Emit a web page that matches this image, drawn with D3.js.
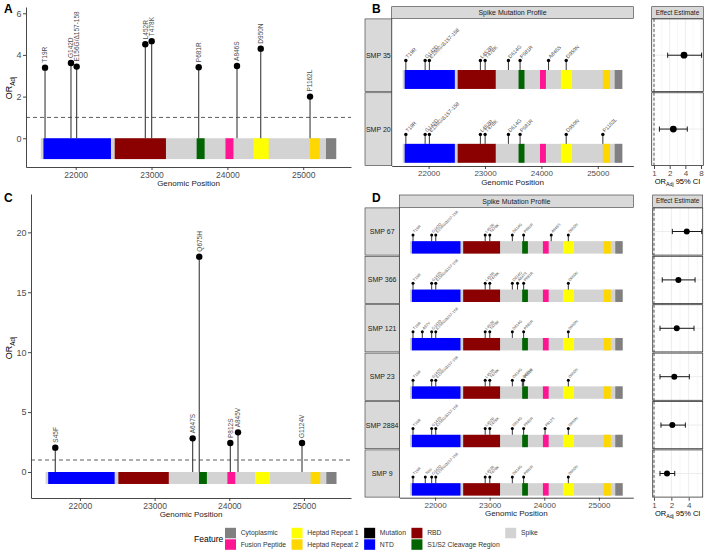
<!DOCTYPE html>
<html><head><meta charset="utf-8">
<script src="https://cdn.jsdelivr.net/npm/d3@7"></script>
<style>body{margin:0;background:#fff;} text{font-family:"Liberation Sans",Arial,Helvetica,sans-serif;}</style>
</head><body><svg id="c" width="708" height="557" xmlns="http://www.w3.org/2000/svg"></svg>
<script>
// ---------------- DATA ----------------
const xDomain = [21345, 25630];
const featureNames  = ["Spike","NTD","RBD","S1/S2 Cleavage Region","Fusion Peptide","Heptad Repeat 1","Heptad Repeat 2","Cytoplasmic"];
const featureStart  = [21540, 21575, 22515, 23595, 23975, 24345, 25090, 25300];
const featureEnd    = [25435, 22465, 23190, 23700, 24080, 24545, 25218, 25435];

const mutationNames = ["T19R","S45F","A67V","T95I","G142D","E156G/Δ157-158","L452R","T478K","D614G","A647S","Q675H","P681R","P812S","A845V","A846S","D950N","G1124V","P1162L"];
const mutationPos   = [21596, 21670, 21766, 21821, 21938, 22013, 22918, 23002, 23415, 23510, 23598, 23622, 24014, 24117, 24127, 24440, 24974, 25090];

const mutA = ["T19R","G142D","E156G/Δ157-158","L452R","T478K","P681R","A846S","D950N","P1162L"];
const orA  = [3.39, 3.61, 3.44, 4.51, 4.66, 3.41, 3.47, 4.30, 2.00];
const mutC = ["S45F","A647S","Q675H","P812S","A845V","G1124V"];
const orC  = [2.03, 2.81, 17.97, 2.42, 3.31, 2.42];

const samplesB = ["SMP 35","SMP 20"];
const profileB = [
  ["T19R","G142D","E156G/Δ157-158","L452R","T478K","D614G","P681R","A846S","D950N"],
  ["T19R","G142D","E156G/Δ157-158","L452R","T478K","D614G","P681R","D950N","P1162L"]
];
const estB = [3.77, 2.35];
const loB  = [1.83, 1.27];
const hiB  = [8.2, 4.36];

const samplesD = ["SMP 67","SMP 366","SMP 121","SMP 23","SMP 2884","SMP 9"];
const profileD = [
  ["T19R","G142D","E156G/Δ157-158","L452R","T478K","D614G","P681R","A846S","D950N"],
  ["T19R","G142D","E156G/Δ157-158","L452R","T478K","D614G","A647S","P681R","D950N"],
  ["T19R","A67V","G142D","E156G/Δ157-158","L452R","T478K","D614G","P681R","D950N"],
  ["T19R","G142D","E156G/Δ157-158","L452R","T478K","D614G","Q675H","P681R","D950N"],
  ["T19R","G142D","E156G/Δ157-158","L452R","T478K","D614G","P681R","P812S","D950N"],
  ["T19R","T95I","G142D","E156G/Δ157-158","L452R","T478K","D614G","P681R","D950N"]
];
const estD = [3.70, 2.65, 2.48, 2.25, 2.08, 1.68];
const loD  = [2.08, 1.39, 1.27, 1.27, 1.32, 1.27];
const hiD  = [6.74, 5.16, 4.95, 4.10, 3.50, 2.29];

const xTicks = [22000, 23000, 24000, 25000];
const yTicksA = [0, 2, 4, 6];
const yTicksC = [0, 5, 10, 15, 20];
const orTicksB = [1, 2, 4, 8];
const orTicksD = [1, 2, 4];
const legendNames = ["Cytoplasmic","Fusion Peptide","Heptad Repeat 1","Heptad Repeat 2","Mutation","NTD","RBD","S1/S2 Cleavage Region","Spike"];

// ---------------- STYLE ----------------
const color = d3.scaleOrdinal()
  .domain(["Cytoplasmic","Fusion Peptide","Heptad Repeat 1","Heptad Repeat 2","Mutation","NTD","RBD","S1/S2 Cleavage Region","Spike"])
  .range(["#808080","#FF1493","#FFFF00","#FFD700","#000000","#0000FF","#8B0000","#006400","#D3D3D3"]);
const posOf = name => mutationPos[mutationNames.indexOf(name)];
const svg = d3.select("#c");
const AX = "#333333", TXT = "#4d4d4d";

function styleAxis(g, fs){
  g.select(".domain").attr("stroke",AX).attr("stroke-width",0.9);
  g.selectAll(".tick line").attr("stroke",AX).attr("stroke-width",0.9);
  g.selectAll(".tick text").attr("fill",TXT).style("font-size",fs+"px").attr("font-family",null);
}
function orTitle(g, x, y, rot, fs){
  const t = g.append("text").attr("text-anchor","middle").attr("fill","#000").style("font-size",fs+"px")
    .attr("transform", rot ? `translate(${x},${y}) rotate(-90)` : `translate(${x},${y})`);
  t.append("tspan").text("OR");
  t.append("tspan").text("Adj").style("font-size",(fs*0.7)+"px").attr("dy", fs*0.3);
  return t;
}
function letter(t,x,y){ svg.append("text").attr("x",x).attr("y",y).text(t).style("font-size","12px").attr("font-weight","bold"); }

// ---------- Lollipop panels (A, C) ----------
function lollipop(o){
  const g = svg.append("g");
  const x = d3.scaleLinear().domain(xDomain).range([o.x0, o.x1]);
  const y = d3.scaleLinear().domain(o.yDomain).range([o.yBot, o.yTop]);
  featureNames.forEach((f,i)=>{
    g.append("rect").attr("x",x(featureStart[i])).attr("width",x(featureEnd[i])-x(featureStart[i]))
      .attr("y",y(0)).attr("height",y(-1)-y(0)).attr("fill",color(f));
  });
  g.append("line").attr("x1",o.x0).attr("x2",o.x1).attr("y1",y(1)).attr("y2",y(1))
    .attr("stroke",AX).attr("stroke-width",0.8).attr("stroke-dasharray","4,3");
  o.names.forEach((m,i)=>{
    const px = x(posOf(m)), py = y(o.ors[i]);
    g.append("line").attr("x1",px).attr("x2",px).attr("y1",y(0)).attr("y2",py).attr("stroke","#3a3a3a").attr("stroke-width",1.1);
    g.append("circle").attr("cx",px).attr("cy",py).attr("r",3.2).attr("fill","#000");
    g.append("text").attr("transform",`translate(${px},${py-5}) rotate(-90)`).attr("dy","0.35em")
      .text(m).style("font-size","6.5px").attr("fill",TXT);
  });
  const ay = g.append("g").attr("transform",`translate(${o.x0},0)`)
    .call(d3.axisLeft(y).tickValues(o.yTicks).tickSize(3).tickSizeOuter(0).tickPadding(1.5));
  styleAxis(ay, 9);
  const ax = g.append("g").attr("transform",`translate(0,${o.yBot})`)
    .call(d3.axisBottom(x).tickValues(xTicks).tickFormat(d3.format("d")).tickSize(3).tickSizeOuter(0).tickPadding(1.5));
  styleAxis(ax, 8.5);
  g.append("text").attr("x",(o.x0+o.x1)/2).attr("y",o.yBot+18.5).attr("text-anchor","middle")
    .text("Genomic Position").style("font-size","8px").attr("fill","#1a1a1a");
  orTitle(g, o.titleX, o.titleY, true, 9);
}

lollipop({x0:26, x1:351, yTop:7, yBot:167, yDomain:[-1.38,6.3], yTicks:yTicksA, names:mutA, ors:orA, titleX:12, titleY:88});
lollipop({x0:31, x1:351, yTop:194, yBot:498, yDomain:[-2.17,23.2], yTicks:yTicksC, names:mutC, ors:orC, titleX:12, titleY:348});
letter("A",4,13); letter("C",4,202); letter("B",372,13); letter("D",372,202);

// ---------- Profile facets (B, D) ----------
function strip(x0,y0,x1,y1,label,fs){
  svg.append("rect").attr("x",x0).attr("y",y0).attr("width",x1-x0).attr("height",y1-y0)
    .attr("fill","#d9d9d9").attr("stroke",AX).attr("stroke-width",0.6);
  svg.append("text").attr("x",(x0+x1)/2).attr("y",(y0+y1)/2).attr("dy","0.35em").attr("text-anchor","middle")
    .text(label).style("font-size",fs+"px").attr("fill","#1a1a1a");
}
function profile(o){
  const g = svg.append("g");
  const x = d3.scaleLinear().domain(xDomain).range([o.x0, o.x1]);
  const n = o.samples.length, rowH = (o.rowBot - o.rowTop)/n;
  strip(o.x0, o.stripTop, o.x1, o.rowTop, "Spike Mutation Profile", 7);
  o.samples.forEach((s,i)=>{
    const top = o.rowTop + i*rowH, bot = top + rowH;
    const y = d3.scaleLinear().domain([-1.17,2.73]).range([bot, top]);
    strip(o.stripX, top+0.6, o.x0, bot-0.6, s, 7);
    featureNames.forEach((f,k)=>{
      g.append("rect").attr("x",x(featureStart[k])).attr("width",x(featureEnd[k])-x(featureStart[k]))
        .attr("y",y(0)).attr("height",y(-1)-y(0)).attr("fill",color(f));
    });
    o.profiles[i].forEach(m=>{
      const px = x(posOf(m)), py = y(0.5);
      g.append("line").attr("x1",px).attr("x2",px).attr("y1",y(0)).attr("y2",py).attr("stroke","#000").attr("stroke-width",0.8);
      g.append("circle").attr("cx",px).attr("cy",py).attr("r",o.r).attr("fill","#000");
      g.append("text").attr("transform",`translate(${px+0.8},${py-o.r-1.2}) rotate(-45)`).attr("dy","0.3em")
        .text(m).style("font-size",o.fs+"px").attr("fill",TXT);
    });
  });
  g.append("line").attr("x1",o.x0).attr("x2",o.x0).attr("y1",o.rowTop).attr("y2",o.rowBot).attr("stroke",AX).attr("stroke-width",0.9);
  const ax = g.append("g").attr("transform",`translate(0,${o.rowBot})`)
    .call(d3.axisBottom(x).tickValues(xTicks).tickFormat(d3.format("d")).tickSize(3).tickSizeOuter(0).tickPadding(1.5));
  styleAxis(ax, 8);
  g.append("text").attr("x",(o.x0+o.x1)/2).attr("y",o.rowBot+18.5).attr("text-anchor","middle")
    .text("Genomic Position").style("font-size","8px").attr("fill","#1a1a1a");
}
profile({x0:391.7, x1:633.3, stripTop:6.7, rowTop:18.3, rowBot:166, stripX:365, samples:samplesB, profiles:profileB, r:1.7, fs:5.2});
profile({x0:399.3, x1:633.3, stripTop:195, rowTop:207.3, rowBot:497.7, stripX:365, samples:samplesD, profiles:profileD, r:1.5, fs:3.8});

// ---------- Forest panels ----------
function forest(o){
  const g = svg.append("g");
  const x = d3.scaleLog().base(2).domain(o.domain).range([o.x0, o.x1]);
  strip(o.x0, o.stripTop, o.x1, o.rowTop, "Effect Estimate", 6.5);
  const n = o.est.length, rowH = (o.rowBot - o.rowTop)/n;
  const minor = [Math.SQRT2, 2*Math.SQRT2, 4*Math.SQRT2].filter(v=>v<o.domain[1]);
  o.est.forEach((e,i)=>{
    const top = o.rowTop + i*rowH + 0.6, bot = o.rowTop + (i+1)*rowH - 0.6, cy = (top+bot)/2;
    minor.forEach(v=> g.append("line").attr("x1",x(v)).attr("x2",x(v)).attr("y1",top).attr("y2",bot).attr("stroke","#f2f2f2").attr("stroke-width",0.6));
    o.ticks.forEach(v=> g.append("line").attr("x1",x(v)).attr("x2",x(v)).attr("y1",top).attr("y2",bot).attr("stroke","#ebebeb").attr("stroke-width",0.9));
    g.append("line").attr("x1",o.x0).attr("x2",o.x1).attr("y1",cy).attr("y2",cy).attr("stroke","#ebebeb").attr("stroke-width",0.9);
    g.append("line").attr("x1",x(1)).attr("x2",x(1)).attr("y1",top).attr("y2",bot).attr("stroke",AX).attr("stroke-width",0.8).attr("stroke-dasharray","3,2");
    g.append("line").attr("x1",x(o.lo[i])).attr("x2",x(o.hi[i])).attr("y1",cy).attr("y2",cy).attr("stroke","#000").attr("stroke-width",0.9);
    [o.lo[i], o.hi[i]].forEach(v=> g.append("line").attr("x1",x(v)).attr("x2",x(v)).attr("y1",cy-2.6).attr("y2",cy+2.6).attr("stroke","#000").attr("stroke-width",0.9));
    g.append("circle").attr("cx",x(e)).attr("cy",cy).attr("r",o.r).attr("fill","#000");
    g.append("rect").attr("x",o.x0).attr("y",top).attr("width",o.x1-o.x0).attr("height",bot-top).attr("fill","none").attr("stroke",AX).attr("stroke-width",0.8);
  });
  const ax = g.append("g").attr("transform",`translate(0,${o.rowBot})`)
    .call(d3.axisBottom(x).tickValues(o.ticks).tickFormat(d3.format("d")).tickSize(3).tickSizeOuter(0).tickPadding(1.5));
  ax.select(".domain").remove();
  styleAxis(ax, 8);
  const t = orTitle(g, (o.x0+o.x1)/2, o.rowBot+18, false, 7.5);
  t.append("tspan").text(" 95% CI").attr("dy", -7.5*0.3).style("font-size","7.5px");
}
forest({x0:651.7, x1:703.3, stripTop:6.7, rowTop:18.3, rowBot:166, domain:[0.903,8.85], ticks:orTicksB, est:estB, lo:loB, hi:hiB, r:3.4});
forest({x0:652.7, x1:702.7, stripTop:195, rowTop:207.3, rowBot:497.7, domain:[0.949,7.0], ticks:orTicksD, est:estD, lo:loD, hi:hiD, r:3.0});

// ---------- Legend ----------
(function(){
  const g = svg.append("g");
  g.append("text").attr("x",194).attr("y",539.3).attr("dy","0.35em").text("Feature").style("font-size","8.5px").attr("fill","#000");
  let kx = 225;
  const cellH = 11.5, y0 = 527.3;
  for(let c=0;c<Math.ceil(legendNames.length/2);c++){
    let maxW = 0;
    for(let r=0;r<2;r++){
      const idx = c*2 + r; if(idx>=legendNames.length) break;
      const nm = legendNames[idx];
      g.append("rect").attr("x",kx).attr("y",y0 + r*cellH + 0.5).attr("width",11).attr("height",cellH-1).attr("fill",color(nm));
      const t = g.append("text").attr("x",kx+15.7).attr("y",y0 + r*cellH + cellH/2).attr("dy","0.35em")
        .text(nm).style("font-size","6.8px").attr("fill","#333");
      maxW = Math.max(maxW, t.node().getComputedTextLength());
    }
    kx = kx + 15.7 + maxW + 5.5;
  }
})();
</script></body></html>
